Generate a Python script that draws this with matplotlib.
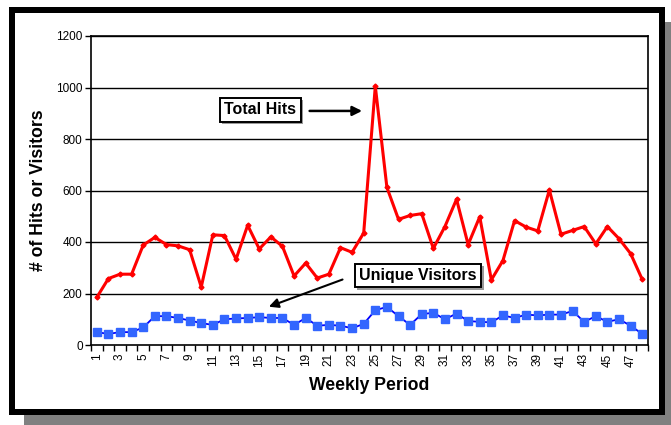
import matplotlib
matplotlib.use('Agg')
import matplotlib.pyplot as plt
import matplotlib.patches as patches
import matplotlib.patheffects as pe

plt.rcParams['font.family'] = ['Liberation Sans', 'DejaVu Sans']

weeks = list(range(1, 49))
total_hits = [185, 258, 275, 275, 388, 418, 390, 385, 370, 225,
              428, 425, 333, 465, 373, 420, 383, 268, 318, 260,
              275, 378, 360, 435, 1005, 612, 488, 503, 510, 375,
              460, 566, 390, 498, 253, 328, 483, 458, 443, 602,
              430, 445, 460, 393, 460, 413, 355, 255]
unique_visitors = [50, 43, 50, 50, 68, 112, 112, 105, 95, 85,
                   78, 100, 103, 105, 108, 105, 105, 78, 105, 75,
                   78, 75, 65, 82, 135, 148, 112, 78, 120, 125,
                   100, 122, 93, 90, 88, 115, 105, 118, 115, 118,
                   118, 132, 90, 112, 90, 100, 75, 43]
y_ticks = [0, 200, 400, 600, 800, 1000, 1200]

W, H = 671, 425
fig = plt.figure(figsize=(W / 100, H / 100), dpi=100)

def px_rect(x0, y0, x1, y1, **kw):
    # rectangle given in pixel coords (top-left origin)
    return patches.Rectangle((x0 / W, 1 - y1 / H), (x1 - x0) / W, (y1 - y0) / H,
                             transform=fig.transFigure, **kw)

# frame with shadow
fig.patches.append(px_rect(23.5, 22, 671, 425, facecolor='#808080', edgecolor='none', zorder=-3))
fig.patches.append(px_rect(8.6, 7.3, 665, 415, facecolor='black', edgecolor='none', zorder=-2))
fig.patches.append(px_rect(15, 13.3, 659, 409, facecolor='white', edgecolor='none', zorder=-1))

ax = fig.add_axes([91 / W, 1 - 345 / H, (648 - 91) / W, (345 - 36) / H])
ax.set_zorder(2)
ax.set_facecolor('none')

ax.plot(weeks, total_hits, color='#FF0000', lw=2.2, marker='D', ms=2.5,
        mec='#FF0000', mfc='#FF0000', zorder=3)
ax.plot(weeks, unique_visitors, color='#0000FF', lw=1.3, marker='s', ms=5.5,
        mec='#3366FF', mfc='#3366FF', zorder=3)

ax.set_xlim(0.5, 48.5)
ax.set_ylim(0, 1200)
ax.set_yticks(y_ticks)
ax.set_yticklabels([str(v) for v in y_ticks], fontsize=8.5)
for v in y_ticks[1:]:
    ax.axhline(v, color='black', lw=1.0, zorder=1)

ax.set_xticks(weeks[::2])
ax.set_xticklabels([str(w) for w in weeks[::2]], rotation=90, fontsize=8.5)
ax.set_xticks([w + 0.5 for w in range(0, 49)], minor=True)
ax.tick_params(axis='x', which='major', length=0, pad=6)
ax.tick_params(axis='x', which='minor', length=4, width=1, direction='out')
ax.tick_params(axis='y', length=4, width=1, direction='out', pad=2)
for s in ax.spines.values():
    s.set_linewidth(1.2)
    s.set_color('black')

fig.text(38.5 / W, 1 - 190 / H, '# of Hits or Visitors', rotation=90,
         ha='center', va='center', fontsize=12.7, fontweight='bold')
fig.text(369 / W, 1 - 385 / H, 'Weekly Period', ha='center', va='center',
         fontsize=12.7, fontweight='bold')

box = dict(boxstyle='square,pad=0.28', facecolor='white', edgecolor='black', lw=1.4)
shadow = [pe.SimplePatchShadow(offset=(1.5, -1.5), shadow_rgbFace='#999999', alpha=1),
          pe.Normal()]
t1 = ax.text(15.07, 913, 'Total Hits', ha='center', va='center', fontsize=11.5,
             fontweight='bold', bbox=box, zorder=5)
t1.get_bbox_patch().set_path_effects(shadow)
ax.annotate('', xy=(24.1, 909), xytext=(19.1, 909),
            arrowprops=dict(arrowstyle='-|>', color='black', lw=1.8,
                            mutation_scale=14), zorder=5)
t2 = ax.text(28.7, 270, 'Unique Visitors', ha='center', va='center', fontsize=11.5,
             fontweight='bold', bbox=box, zorder=5)
t2.get_bbox_patch().set_path_effects(shadow)
ax.annotate('', xy=(15.6, 145), xytext=(22.4, 258),
            arrowprops=dict(arrowstyle='-|>', color='black', lw=1.5,
                            mutation_scale=14), zorder=5)

fig.savefig('out.png', dpi=100)
